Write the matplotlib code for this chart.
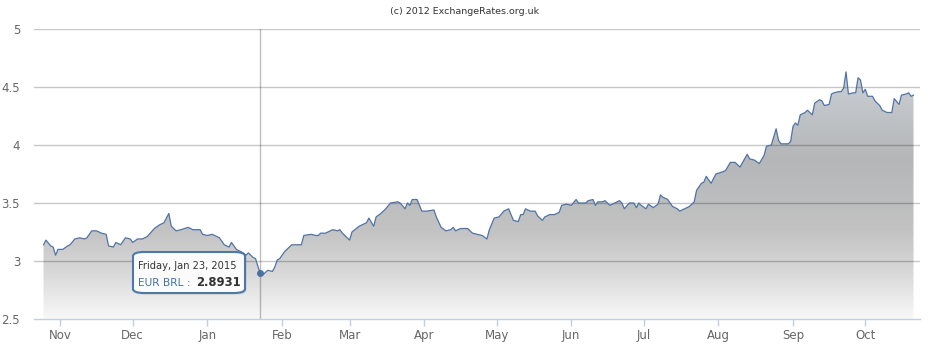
import numpy as np
import matplotlib
matplotlib.use("Agg")
import matplotlib.pyplot as plt
import matplotlib.dates as mdates
from matplotlib.colors import LinearSegmentedColormap
from matplotlib.patches import FancyBboxPatch

# EUR/BRL daily rate (days counted from 1 Nov 2014)
start = np.datetime64("2014-11-01")
day_offset = [
    -7, -6, -4, -3, -2, -1, 1, 3, 4, 6, 8, 10, 11, 13, 15, 17, 19, 20, 22, 23,
    25, 27, 29, 30, 32, 34, 36, 39, 41, 43, 45, 46, 48, 50, 53, 55, 58, 59, 61, 63,
    66, 68, 70, 71, 73, 75, 77, 78, 80, 81, 82, 83, 84, 86, 88, 89, 90, 91, 93, 94,
    96, 98, 100, 101, 104, 106, 107, 108, 110, 113, 115, 116, 117, 119, 120, 121, 124, 126, 127, 128,
    130, 131, 133, 135, 137, 140, 141, 143, 144, 145, 146, 148, 149, 150, 152, 155, 156, 158, 160, 162,
    163, 164, 166, 169, 171, 175, 177, 178, 180, 182, 184, 186, 188, 190, 191, 192, 193, 195, 197, 198,
    200, 201, 203, 205, 207, 208, 210, 212, 214, 215, 218, 219, 221, 222, 223, 225, 226, 228, 230, 232,
    233, 234, 236, 238, 239, 240, 241, 243, 244, 246, 248, 249, 250, 252, 254, 256, 257, 259, 261, 263,
    264, 266, 267, 268, 270, 272, 275, 276, 278, 280, 282, 285, 286, 288, 290, 292, 293, 295, 297, 298,
    299, 302, 303, 304, 305, 306, 307, 309, 310, 312, 313, 315, 316, 317, 319, 320, 321, 323, 324, 325,
    326, 327, 329, 330, 331, 332, 333, 334, 335, 337, 338, 340, 341, 343, 345, 346, 348, 349, 351, 352,
    353, 354,
]
rate = [
    3.14, 3.18, 3.13, 3.12, 3.05, 3.10, 3.10, 3.13, 3.14, 3.19, 3.20, 3.19, 3.20, 3.26, 3.26, 3.24, 3.23, 3.13, 3.12, 3.16,
    3.14, 3.20, 3.19, 3.16, 3.19, 3.19, 3.21, 3.28, 3.31, 3.33, 3.41, 3.30, 3.26, 3.27, 3.29, 3.27, 3.27, 3.23, 3.22, 3.23,
    3.20, 3.14, 3.12, 3.16, 3.10, 3.08, 3.05, 3.07, 3.03, 3.02, 2.95, 2.8931, 2.88, 2.92, 2.91, 2.95, 3.01, 3.02, 3.08, 3.10,
    3.14, 3.14, 3.14, 3.22, 3.23, 3.22, 3.22, 3.24, 3.24, 3.27, 3.26, 3.27, 3.24, 3.20, 3.18, 3.25, 3.30, 3.32, 3.33, 3.37,
    3.30, 3.38, 3.41, 3.45, 3.50, 3.51, 3.50, 3.45, 3.50, 3.48, 3.53, 3.53, 3.48, 3.43, 3.43, 3.44, 3.38, 3.29, 3.26, 3.27,
    3.29, 3.26, 3.28, 3.28, 3.24, 3.22, 3.19, 3.27, 3.37, 3.38, 3.43, 3.45, 3.35, 3.34, 3.40, 3.40, 3.45, 3.43, 3.43, 3.39,
    3.35, 3.38, 3.40, 3.40, 3.42, 3.48, 3.49, 3.48, 3.53, 3.50, 3.50, 3.52, 3.53, 3.48, 3.51, 3.51, 3.52, 3.48, 3.50, 3.52,
    3.50, 3.45, 3.50, 3.50, 3.46, 3.50, 3.48, 3.45, 3.49, 3.46, 3.49, 3.57, 3.55, 3.53, 3.47, 3.45, 3.43, 3.45, 3.47, 3.51,
    3.61, 3.67, 3.68, 3.73, 3.67, 3.75, 3.77, 3.78, 3.85, 3.85, 3.81, 3.92, 3.88, 3.87, 3.84, 3.91, 3.99, 4.00, 4.14, 4.04,
    4.01, 4.01, 4.03, 4.16, 4.19, 4.17, 4.26, 4.28, 4.30, 4.26, 4.36, 4.39, 4.38, 4.34, 4.35, 4.44, 4.45, 4.46, 4.46, 4.49,
    4.63, 4.44, 4.45, 4.45, 4.58, 4.56, 4.45, 4.48, 4.42, 4.42, 4.38, 4.34, 4.30, 4.28, 4.28, 4.40, 4.35, 4.43, 4.44, 4.45,
    4.42, 4.43,
]
y_ticks = [2.5, 3, 3.5, 4, 4.5, 5]
month_ticks = ["2014-11-01", "2014-12-01", "2015-01-01", "2015-02-01", "2015-03-01", "2015-04-01",
               "2015-05-01", "2015-06-01", "2015-07-01", "2015-08-01", "2015-09-01", "2015-10-01"]
month_labels = ["Nov", "Dec", "Jan", "Feb", "Mar", "Apr", "May", "Jun", "Jul", "Aug", "Sep", "Oct"]
hover_day = "2015-01-23"
hover_value = 2.8931

dates = start + np.array(day_offset).astype("timedelta64[D]")
xnum = mdates.date2num(dates)

fig = plt.figure(figsize=(9.37, 3.45), dpi=100)
ax = fig.add_axes([34 / 937, 26 / 345, 886 / 937, 290 / 345])

x_lo = mdates.date2num(start) - 10.95
x_hi = mdates.date2num(start) + 356.7
ax.set_xlim(x_lo, x_hi)
ax.set_ylim(2.5, 5)

# gradient fill under the line
cmap = LinearSegmentedColormap.from_list(
    "fill", [(0.0, "#d6dadd"), (0.2, "#c7cbcf"), (0.45, "#b4b6b8"),
             (0.7, "#c3c3c3"), (0.85, "#dadada"), (1.0, "#f8f8f8")])
grad = np.linspace(0, 1, 256).reshape(-1, 1)
im = ax.imshow(grad, cmap=cmap, aspect="auto", extent=[x_lo, x_hi, 2.5, 5],
               origin="upper", zorder=1, interpolation="bilinear")
poly = ax.fill_between(xnum, rate, 2.5, facecolor="none", edgecolor="none")
im.set_clip_path(poly.get_paths()[0], transform=ax.transData)

ax.plot(xnum, rate, color="#4f74a8", lw=0.9, zorder=3)

# grid lines and crosshair
for v in y_ticks[1:]:
    ax.axhline(v, color="black", alpha=0.22, lw=1, zorder=2)
hx = mdates.date2num(np.datetime64(hover_day))
ax.axvline(hx, color="black", alpha=0.25, lw=1, zorder=2)
ax.plot([hx], [hover_value], "o", color="#4a6fa5", ms=4, zorder=4)

# axes styling
for s in ["top", "right", "left"]:
    ax.spines[s].set_visible(False)
ax.spines["bottom"].set_color("#C0D0E0")
ax.spines["bottom"].set_linewidth(1)
ax.spines["bottom"].set_zorder(5)

ax.set_yticks(y_ticks)
ax.set_yticklabels(["2.5", "3", "3.5", "4", "4.5", "5"])
ax.tick_params(axis="y", length=0, pad=10, labelsize=8.5, labelcolor="#666666")
ax.set_xticks(mdates.date2num(np.array(month_ticks, dtype="datetime64[D]")))
ax.set_xticklabels(month_labels)
ax.tick_params(axis="x", length=5, width=1, color="#C0D0E0", pad=2,
               labelsize=8.5, labelcolor="#666666")

fig.text(465 / 937, 1 - 11 / 345, "(c) 2012 ExchangeRates.org.uk", ha="center", va="center",
         fontsize=6.8, color="#333333")

# tooltip
bx0, by0, bw, bh = 133 / 937, 1 - 293 / 345, 112 / 937, 41 / 345
shadow = FancyBboxPatch((bx0 + 1.5 / 937, by0 - 1.5 / 345), bw, bh, transform=fig.transFigure,
                        boxstyle="round,pad=0,rounding_size=0.012", facecolor="black",
                        alpha=0.1, edgecolor="none", zorder=9)
fig.patches.append(shadow)
box = FancyBboxPatch((bx0, by0), bw, bh, transform=fig.transFigure,
                     boxstyle="round,pad=0,rounding_size=0.012", facecolor="white",
                     alpha=0.95, edgecolor="#4572A7", lw=1.5, zorder=10)
fig.patches.append(box)
fig.text(138 / 937, 1 - 266 / 345, "Friday, Jan 23, 2015", fontsize=7.1, color="#333333",
         va="center", ha="left", zorder=11)
fig.text(138 / 937, 1 - 283 / 345, "EUR BRL :", fontsize=7.7, color="#4572A7",
         va="center", ha="left", zorder=11)
fig.text(241 / 937, 1 - 283 / 345, f"{hover_value:.4f}", fontsize=8.4, color="#333333",
         fontweight="bold", va="center", ha="right", zorder=11)

fig.savefig("out.png", dpi=100)
